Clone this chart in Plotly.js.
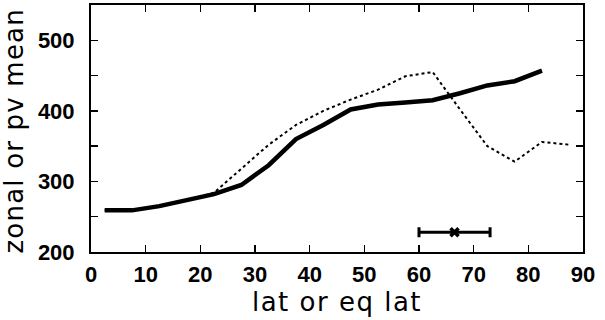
<!DOCTYPE html>
<html><head><meta charset="utf-8">
<script src="https://cdn.plot.ly/plotly-3.0.1.min.js"></script>
<style>body{margin:0;background:#fff}#c{width:605px;height:320px}
.xtitle{letter-spacing:1.5px}.annotation-text{letter-spacing:1.2px}</style>
</head><body><div id="c"></div>
<script>
const lat = [2.5,7.5,12.5,17.5,22.5,27.5,32.5,37.5,42.5,47.5,52.5,57.5,62.5,67.5,72.5,77.5,82.5];
const zonalMean = [259,259,265,273,282,295,323,360,380,402,409,412,415,425,436,442,457];
const eqLat = [2.5,7.5,12.5,17.5,22.5,27.5,32.5,37.5,42.5,47.5,52.5,57.5,62.5,67.5,72.5,77.5,82.5,87.5];
const pvMean = [259,259,265,273,284,318,352,380,400,416,430,449,455,402,350,328,356,352];
const errX = [66.5];
const errY = [228];
const errHalf = [6.5];
const yTicks = [200,250,300,350,400,450,500,550];
const yTickText = ['200','','300','','400','','500',''];
const xTicks = [0,10,20,30,40,50,60,70,80,90];
const xTitle = 'lat or eq lat';
const yTitle = 'zonal or pv mean';

const font = "DejaVu Sans, sans-serif";
const tfont = "Liberation Sans, Arial, sans-serif";
const data = [
  {x: eqLat, y: pvMean, mode:'lines', line:{color:'#000', width:2, dash:'dot'}, hoverinfo:'skip'},
  {x: lat, y: zonalMean, mode:'lines', line:{color:'#000', width:4.5}, hoverinfo:'skip'},
  {x: errX, y: errY, mode:'markers', marker:{symbol:'x-thin', size:8, color:'#000', line:{width:3.5, color:'#000'}},
   error_x:{type:'data', array:errHalf, visible:true, color:'#000', thickness:3, width:5}, hoverinfo:'skip'}
];
const layout = {
  width:605, height:320,
  margin:{l:91, r:22, t:5, b:68},
  paper_bgcolor:'#fff', plot_bgcolor:'#fff',
  showlegend:false,
  font:{family:font, color:'#000', size:19},
  xaxis:{range:[0,90], tickvals:xTicks, ticks:'inside', ticklen:7, tickwidth:1.5, tickcolor:'#000',
    showline:true, linecolor:'#000', linewidth:2, mirror:'ticks', showgrid:false, zeroline:false,
    tickfont:{family:tfont, size:22, weight:'bold'}, ticklabelstandoff:2,
    title:{text:xTitle, font:{family:font, size:26}, standoff:2}},
  yaxis:{range:[200,550], tickvals:yTicks, ticktext:yTickText, ticks:'inside', ticklen:7, tickwidth:1.5, tickcolor:'#000',
    showline:true, linecolor:'#000', linewidth:2, mirror:'ticks', showgrid:false, zeroline:false,
    tickfont:{family:tfont, size:22, weight:'bold'}, ticklabelstandoff:10},
  annotations:[{text:yTitle, xref:'paper', yref:'paper', x:-68/492, y:0.5, xanchor:'center', yanchor:'middle',
    xshift:-10, yshift:-3,
    textangle:-90, showarrow:false, font:{family:font, size:26, color:'#000'}}]
};
Plotly.newPlot('c', data, layout, {displayModeBar:false, staticPlot:true});
</script></body></html>
